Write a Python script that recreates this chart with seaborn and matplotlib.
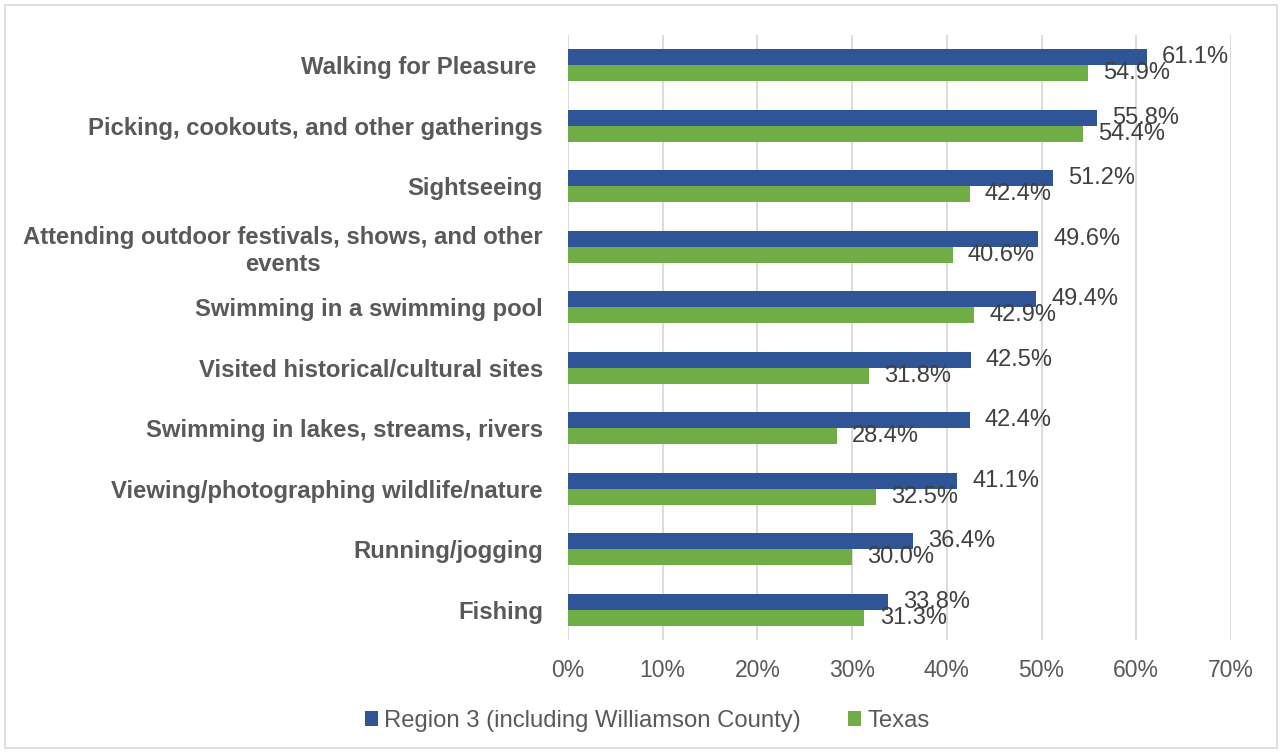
import matplotlib
matplotlib.use("Agg")
import matplotlib.pyplot as plt
from matplotlib.patches import Rectangle
from matplotlib.ticker import FuncFormatter
import pandas as pd
import seaborn as sns

# Outdoor recreation participation, share of respondents (%)
activities = [
    "Walking for Pleasure ",
    "Picking, cookouts, and other gatherings",
    "Sightseeing",
    "Attending outdoor festivals, shows, and other\nevents",
    "Swimming in a swimming pool",
    "Visited historical/cultural sites",
    "Swimming in lakes, streams, rivers",
    "Viewing/photographing wildlife/nature",
    "Running/jogging",
    "Fishing",
]
region3 = [61.1, 55.8, 51.2, 49.6, 49.4, 42.5, 42.4, 41.1, 36.4, 33.8]
texas = [54.9, 54.4, 42.4, 40.6, 42.9, 31.8, 28.4, 32.5, 30.0, 31.3]
groups = ["Region 3 (including Williamson County)", "Texas"]
x_ticks = [0, 10, 20, 30, 40, 50, 60, 70]

BLUE = "#2F5597"
GREEN = "#70AD47"
GRID = "#D9D9D9"
TEXT = "#595959"
LABEL = "#404040"

df = pd.DataFrame({
    "activity": activities * 2,
    "pct": region3 + texas,
    "group": [groups[0]] * len(activities) + [groups[1]] * len(activities),
})

sns.set_theme(style="white")
plt.rcParams["font.family"] = ["Liberation Sans", "DejaVu Sans"]

W, H = 1282, 753
fig = plt.figure(figsize=(W / 100, H / 100), dpi=100)
fig.patch.set_facecolor("white")
ax = fig.add_axes([568 / W, 1 - 640 / H, (1231 - 568) / W, (640 - 35) / H])

sns.barplot(
    data=df, y="activity", x="pct", hue="group", order=activities,
    hue_order=groups, palette=[BLUE, GREEN], orient="h", width=0.53,
    saturation=1, linewidth=0, ax=ax,
)

handles, labels = ax.get_legend_handles_labels()
if ax.legend_ is not None:
    ax.legend_.remove()

for container in ax.containers:
    ax.bar_label(
        container,
        labels=[f"{v:.1f}%" for v in container.datavalues],
        padding=11, fontsize=17, color=LABEL,
    )

ax.set_xlim(0, 70)
ax.set_xticks(x_ticks)
ax.xaxis.set_major_formatter(FuncFormatter(lambda v, _: f"{v:.0f}%"))
ax.grid(axis="x", color=GRID, linewidth=1.3)
ax.set_axisbelow(True)
for s in ax.spines.values():
    s.set_visible(False)
ax.set_xlabel("")
ax.set_ylabel("")
ax.tick_params(axis="x", length=0, pad=14, labelsize=16.5, labelcolor=TEXT)
ax.tick_params(axis="y", length=0, pad=18, labelsize=17.2, labelcolor=TEXT)
for t in ax.get_yticklabels():
    t.set_fontweight("bold")
    t.set_multialignment("center")

fig.legend(
    handles, labels, loc="center", bbox_to_anchor=(647 / W, 1 - 721 / H),
    ncol=2, frameon=False, fontsize=17.2, labelcolor=TEXT,
    handlelength=0.55, handleheight=0.55, handletextpad=0.25,
    columnspacing=2.0,
)

fig.add_artist(Rectangle(
    (5 / W, 5 / H), (W - 10) / W, (H - 10) / H, transform=fig.transFigure,
    fill=False, edgecolor=GRID, linewidth=1.2,
))

fig.savefig("out.png", dpi=100)
